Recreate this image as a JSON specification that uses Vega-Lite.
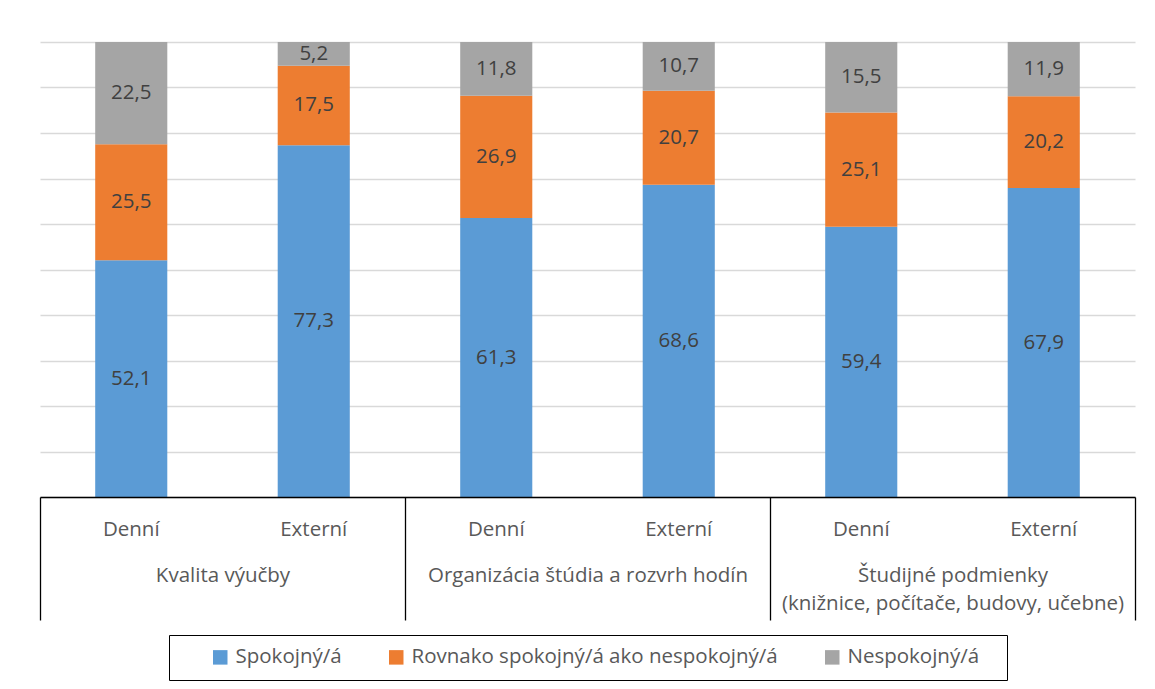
{
  "$schema": "https://vega.github.io/schema/vega-lite/v6.json",
  "width": 1095,
  "height": 455,
  "autosize": {"type": "none"},
  "padding": {"left": 40, "top": 42, "right": 20, "bottom": 192},
  "background": "white",
  "config": {
    "view": {"stroke": null},
    "font": "Open Sans",
    "legend": {"layout": {"bottom": {"anchor": "middle"}}},
    "locale": {"number": {"decimal": ",", "thousands": " ", "grouping": [3], "currency": ["", " €"]}}
  },
  "data": {
    "values": [
      {"id": "1|Denní", "grp": "Kvalita výučby", "cat": "Spokojný/á", "rank": 1, "v": 52.1},
      {"id": "1|Denní", "grp": "Kvalita výučby", "cat": "Rovnako spokojný/á ako nespokojný/á", "rank": 2, "v": 25.5},
      {"id": "1|Denní", "grp": "Kvalita výučby", "cat": "Nespokojný/á", "rank": 3, "v": 22.5},
      {"id": "1|Externí", "grp": "Kvalita výučby", "cat": "Spokojný/á", "rank": 1, "v": 77.3},
      {"id": "1|Externí", "grp": "Kvalita výučby", "cat": "Rovnako spokojný/á ako nespokojný/á", "rank": 2, "v": 17.5},
      {"id": "1|Externí", "grp": "Kvalita výučby", "cat": "Nespokojný/á", "rank": 3, "v": 5.2},
      {"id": "2|Denní", "grp": "Organizácia štúdia a rozvrh hodín", "cat": "Spokojný/á", "rank": 1, "v": 61.3},
      {"id": "2|Denní", "grp": "Organizácia štúdia a rozvrh hodín", "cat": "Rovnako spokojný/á ako nespokojný/á", "rank": 2, "v": 26.9},
      {"id": "2|Denní", "grp": "Organizácia štúdia a rozvrh hodín", "cat": "Nespokojný/á", "rank": 3, "v": 11.8},
      {"id": "2|Externí", "grp": "Organizácia štúdia a rozvrh hodín", "cat": "Spokojný/á", "rank": 1, "v": 68.6},
      {"id": "2|Externí", "grp": "Organizácia štúdia a rozvrh hodín", "cat": "Rovnako spokojný/á ako nespokojný/á", "rank": 2, "v": 20.7},
      {"id": "2|Externí", "grp": "Organizácia štúdia a rozvrh hodín", "cat": "Nespokojný/á", "rank": 3, "v": 10.7},
      {"id": "3|Denní", "grp": "Študijné podmienky|(knižnice, počítače, budovy, učebne)", "cat": "Spokojný/á", "rank": 1, "v": 59.4},
      {"id": "3|Denní", "grp": "Študijné podmienky|(knižnice, počítače, budovy, učebne)", "cat": "Rovnako spokojný/á ako nespokojný/á", "rank": 2, "v": 25.1},
      {"id": "3|Denní", "grp": "Študijné podmienky|(knižnice, počítače, budovy, učebne)", "cat": "Nespokojný/á", "rank": 3, "v": 15.5},
      {"id": "3|Externí", "grp": "Študijné podmienky|(knižnice, počítače, budovy, učebne)", "cat": "Spokojný/á", "rank": 1, "v": 67.9},
      {"id": "3|Externí", "grp": "Študijné podmienky|(knižnice, počítače, budovy, učebne)", "cat": "Rovnako spokojný/á ako nespokojný/á", "rank": 2, "v": 20.2},
      {"id": "3|Externí", "grp": "Študijné podmienky|(knižnice, počítače, budovy, učebne)", "cat": "Nespokojný/á", "rank": 3, "v": 11.9}
    ]
  },
  "transform": [
    {"stack": "v", "groupby": ["id"], "sort": [{"field": "rank", "order": "ascending"}], "offset": "normalize", "as": ["y0", "y1"]},
    {"calculate": "(datum.y0 + datum.y1) / 2", "as": "ym"}
  ],
  "layer": [
    {
      "layer": [
        {
          "mark": {"type": "bar"},
          "encoding": {
            "x": {
              "field": "id", "type": "nominal",
              "sort": ["1|Denní", "1|Externí", "2|Denní", "2|Externí", "3|Denní", "3|Externí"],
              "scale": {"type": "band", "paddingInner": 0.605, "paddingOuter": 0.3025},
              "axis": {
                "orient": "bottom", "title": null, "domain": true, "domainColor": "#000000", "domainWidth": 1.3,
                "ticks": false, "labelPadding": 22, "labelFontSize": 20.5, "labelColor": "#595959",
                "labelExpr": "split(datum.value, '|')[1]", "labelAngle": 0, "labelLimit": 0, "zindex": 1
              }
            },
            "y": {
              "field": "y0", "type": "quantitative",
              "scale": {"domain": [0, 1], "nice": false},
              "axis": {
                "title": null, "domain": false, "ticks": false, "labels": false, "grid": true,
                "values": [0, 0.1, 0.2, 0.3, 0.4, 0.5, 0.6, 0.7, 0.8, 0.9, 1],
                "gridColor": "#D9D9D9", "gridWidth": 1.3, "zindex": 0
              }
            },
            "y2": {"field": "y1"},
            "color": {
              "field": "cat", "type": "nominal",
              "sort": ["Spokojný/á", "Rovnako spokojný/á ako nespokojný/á", "Nespokojný/á"],
              "scale": {
                "domain": ["Spokojný/á", "Rovnako spokojný/á ako nespokojný/á", "Nespokojný/á"],
                "range": ["#5B9BD5", "#ED7D31", "#A5A5A5"]
              },
              "legend": {
                "orient": "bottom", "direction": "horizontal", "title": " ", "titleOrient": "left", "titlePadding": 29,
                "symbolType": "square", "symbolSize": 210, "symbolStrokeWidth": 0,
                "labelFontSize": 20.5, "labelColor": "#595959", "labelLimit": 0, "labelOffset": 5,
                "labelExpr": "datum.label == 'Nespokojný/á' ? datum.label + '\u2800' : datum.label",
                "strokeColor": "#000000", "padding": 12, "offset": 14, "columnPadding": 44
              }
            }
          }
        },
        {
          "mark": {"type": "text", "fontSize": 20.5, "color": "#404040"},
          "encoding": {
            "x": {"field": "id", "type": "nominal", "sort": ["1|Denní", "1|Externí", "2|Denní", "2|Externí", "3|Denní", "3|Externí"]},
            "y": {"field": "ym", "type": "quantitative"},
            "text": {"field": "v", "type": "quantitative", "format": ".1f"}
          }
        }
      ]
    },
    {
      "mark": {"type": "text", "text": ""},
      "encoding": {
        "x": {
          "field": "grp", "type": "nominal",
          "sort": ["Kvalita výučby", "Organizácia štúdia a rozvrh hodín", "Študijné podmienky|(knižnice, počítače, budovy, učebne)"],
          "scale": {"type": "band", "paddingInner": 0, "paddingOuter": 0},
          "axis": {
            "orient": "bottom", "title": null, "domain": false, "ticks": true, "tickBand": "extent",
            "tickSize": 123, "tickColor": "#000000", "tickWidth": 1.3,
            "labelPadding": -55, "labelFontSize": 20.5, "labelColor": "#595959",
            "labelExpr": "datum.value ? split(datum.value, '|') : ''", "labelLineHeight": 28,
            "labelAngle": 0, "labelLimit": 0, "zindex": 1
          }
        }
      }
    }
  ],
  "resolve": {"scale": {"x": "independent"}, "axis": {"x": "independent"}}
}
